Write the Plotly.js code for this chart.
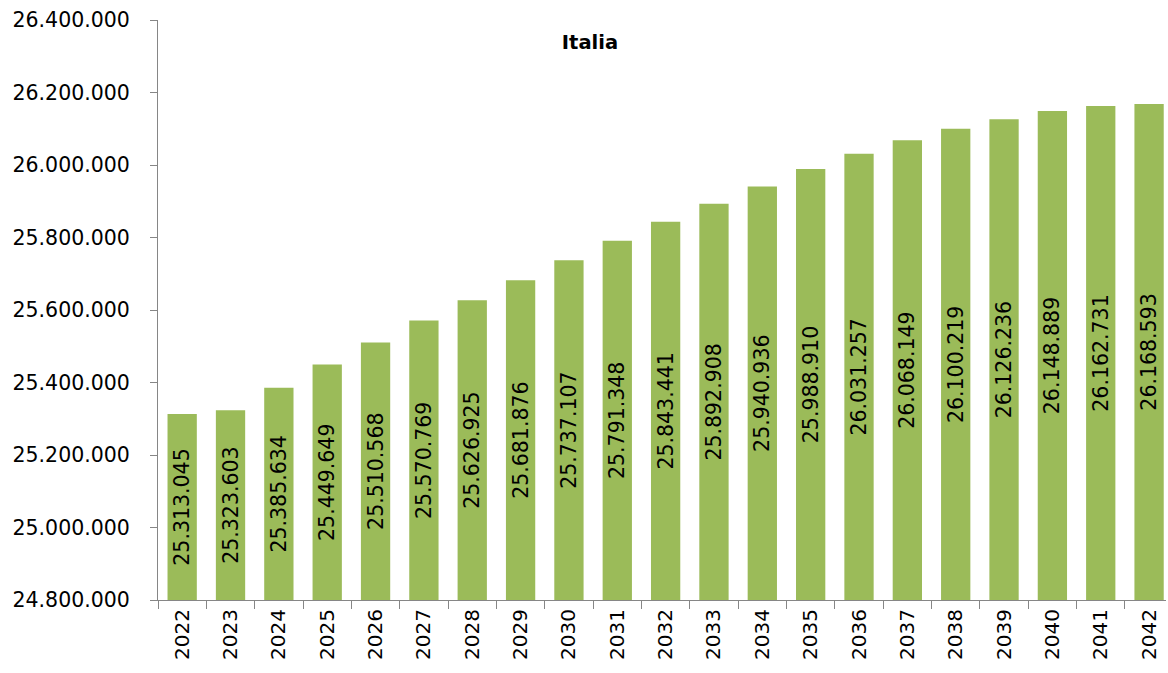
<!DOCTYPE html>
<html>
<head>
<meta charset="utf-8">
<script src="https://cdn.plot.ly/plotly-3.0.1.min.js"></script>
<style>html,body{margin:0;padding:0;background:#fff;overflow:hidden;}</style>
</head>
<body>
<div id="chart" style="width:1168px;height:673px;"></div>
<script>
const years = ["2022","2023","2024","2025","2026","2027","2028","2029","2030","2031","2032","2033","2034","2035","2036","2037","2038","2039","2040","2041","2042"];
const population = [25313045,25323603,25385634,25449649,25510568,25570769,25626925,25681876,25737107,25791348,25843441,25892908,25940936,25988910,26031257,26068149,26100219,26126236,26148889,26162731,26168593];
const chartTitle = "Italia";
const yMin = 24800000, yMax = 26400000, yStep = 200000;

function itNum(v) {
  return String(v).replace(/\B(?=(\d{3})+(?!\d))/g, ".");
}

const FONT = "DejaVu Sans";
// bars start at the axis floor (as in the original spreadsheet chart) so the
// inside labels are centred on the visible part of each bar; top = population
const trace = {
  type: "bar",
  x: years,
  base: yMin,
  y: population.map(v => v - yMin),
  customdata: population,
  marker: {color: "#9BBB59", line: {width: 0}},
  text: population.map(itNum),
  textposition: "inside",
  insidetextanchor: "middle",
  textangle: -90,
  constraintext: "none",
  insidetextfont: {family: FONT, size: 20.5, color: "#000"},
  hovertemplate: "%{x}: %{customdata:,d}<extra></extra>"
};

const layout = {
  width: 1168,
  height: 673,
  separators: ",.",
  margin: {l: 158, r: 2, t: 20, b: 73},
  bargap: 0.394,
  showlegend: false,
  plot_bgcolor: "#fff",
  paper_bgcolor: "#fff",
  font: {family: FONT, size: 20.5, color: "#000"},
  title: {
    text: "<b>" + chartTitle + "</b>",
    font: {family: FONT, size: 19.5, color: "#000"},
    xref: "container", x: 590/1168, xanchor: "center",
    yref: "container", y: 1 - 42/673, yanchor: "middle"
  },
  xaxis: {
    type: "category",
    range: [-0.5, 20.35],
    tickson: "boundaries",
    ticks: "outside",
    ticklen: 8,
    tickcolor: "#868686",
    showline: true,
    linecolor: "#868686",
    linewidth: 1,
    showgrid: false,
    tickangle: -90,
    tickfont: {family: FONT, size: 20, color: "#000"}
  },
  yaxis: {
    range: [yMin, yMax],
    dtick: yStep,
    tick0: yMin,
    tickformat: ",d",
    ticks: "outside",
    ticklen: 7,
    tickcolor: "#868686",
    showline: true,
    linecolor: "#868686",
    linewidth: 1,
    showgrid: false,
    zeroline: false,
    ticklabelstandoff: 16,
    tickfont: {family: FONT, size: 20.5, color: "#000"}
  }
};

Plotly.newPlot("chart", [trace], layout, {displayModeBar: false, staticPlot: true});
</script>
</body>
</html>
